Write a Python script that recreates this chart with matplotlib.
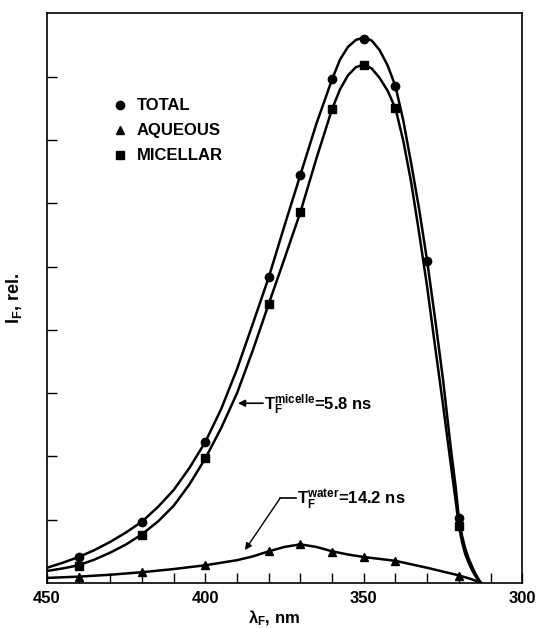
import numpy as np
import matplotlib
matplotlib.use('Agg')
import matplotlib.pyplot as plt
from matplotlib.lines import Line2D

plt.rcParams['font.family'] = ['Liberation Sans', 'DejaVu Sans']
plt.rcParams['font.weight'] = 'bold'
plt.rcParams['axes.labelweight'] = 'bold'
plt.rcParams['mathtext.fontset'] = 'custom'
plt.rcParams['mathtext.rm'] = 'Liberation Sans:bold'
plt.rcParams['mathtext.it'] = 'Liberation Sans:bold'
plt.rcParams['mathtext.default'] = 'rm'

# measured points (wavelength nm, relative intensity)
wl_pts = [440, 420, 400, 380, 370, 360, 350, 340, 330, 320]
total_pts = [0.41, 0.96, 2.23, 4.83, 6.45, 7.96, 8.60, 7.85, 5.09, 1.03]
wl_mic = [440, 420, 400, 380, 370, 360, 350, 340, 320]
micellar_pts = [0.27, 0.76, 1.97, 4.41, 5.86, 7.49, 8.18, 7.50, 0.90]
wl_aq = [440, 420, 400, 380, 370, 360, 350, 340, 320]
aqueous_pts = [0.09, 0.17, 0.28, 0.50, 0.62, 0.49, 0.41, 0.35, 0.11]

# drawn curves
wl_curve = [450, 445, 440, 435, 430, 425, 420, 415, 410, 405, 400, 395, 390,
            385, 380, 375, 370, 365, 360, 357.5, 355, 352.5, 350, 347.5, 345,
            342.5, 340, 337.5, 335, 332.5, 330, 327.5, 325, 322.5, 321, 320,
            319, 318, 317, 316, 315, 314, 313]
total_curve = [0.24, 0.32, 0.41, 0.52, 0.65, 0.80, 0.97, 1.20, 1.47, 1.82,
               2.23, 2.75, 3.38, 4.10, 4.83, 5.65, 6.45, 7.25, 7.96, 8.27,
               8.47, 8.58, 8.62, 8.57, 8.42, 8.18, 7.85, 7.30, 6.62, 5.90,
               5.09, 4.18, 3.22, 2.12, 1.52, 1.03, 0.75, 0.55, 0.40, 0.28,
               0.17, 0.08, 0.0]
micellar_curve = [0.19, 0.23, 0.28, 0.37, 0.48, 0.61, 0.77, 0.97, 1.22, 1.56,
                  1.97, 2.45, 3.00, 3.68, 4.41, 5.13, 5.86, 6.70, 7.49, 7.80,
                  8.02, 8.15, 8.19, 8.13, 7.98, 7.78, 7.50, 6.98, 6.32, 5.52,
                  4.68, 3.74, 2.82, 1.86, 1.30, 0.90, 0.65, 0.46, 0.33, 0.22,
                  0.13, 0.05, 0.0]
wl_aq_curve = [450, 440, 430, 420, 410, 400, 390, 385, 380, 375, 370, 365,
               360, 355, 350, 345, 340, 330, 320, 316, 313]
aqueous_curve = [0.08, 0.10, 0.13, 0.17, 0.22, 0.28, 0.36, 0.42, 0.50, 0.57,
                 0.61, 0.57, 0.50, 0.45, 0.41, 0.38, 0.35, 0.24, 0.12, 0.06,
                 0.0]

fig = plt.figure(figsize=(5.4, 6.28), dpi=100)
ax = fig.add_axes([0.087, 0.0717, 0.88, 0.907])

lw = 1.8
ax.plot(wl_curve, total_curve, color='black', lw=lw, zorder=2)
ax.plot(wl_curve, micellar_curve, color='black', lw=lw, zorder=2)
ax.plot(wl_aq_curve, aqueous_curve, color='black', lw=lw, zorder=2)

ax.plot(wl_pts, total_pts, 'o', color='black', ms=6, zorder=3)
ax.plot(wl_mic, micellar_pts, 's', color='black', ms=6, zorder=3)
ax.plot(wl_aq, aqueous_pts, '^', color='black', ms=6, zorder=3)

ax.set_xlim(450, 300)
ax.set_ylim(0, 9)
ax.set_xticks([450, 400, 350, 300])
ax.set_xticks(np.arange(300, 451, 10), minor=True)
ax.set_yticks(np.arange(1, 9))
ax.set_yticklabels([])
ax.tick_params(axis='x', which='both', direction='in', length=7, width=1,
               labelsize=12, pad=6)
ax.tick_params(axis='y', direction='in', length=7, width=1)
for s in ax.spines.values():
    s.set_linewidth(1.2)

ax.set_xlabel('λ$_F$, nm', fontsize=12)
ax.xaxis.set_label_coords(0.478, -0.045)
ax.set_ylabel('$I_F$, rel.', fontsize=13)
ax.yaxis.set_label_coords(-0.048, 0.5)

# legend
handles = [Line2D([], [], marker='o', ls='none', color='black', ms=6),
           Line2D([], [], marker='^', ls='none', color='black', ms=6),
           Line2D([], [], marker='s', ls='none', color='black', ms=6)]
ax.legend(handles, ['TOTAL', 'AQUEOUS', 'MICELLAR'], loc='upper left',
          bbox_to_anchor=(0.104, 0.877), frameon=False, fontsize=12,
          handlelength=1.0, handletextpad=0.52, labelspacing=0.6)

# lifetime annotations
ax.annotate('', xy=(389.7, 2.84), xytext=(381.8, 2.84),
            arrowprops=dict(arrowstyle='-|>', color='black', lw=1.2,
                            mutation_scale=10, shrinkA=0, shrinkB=0))
ax.text(381.5, 2.82, r'T$_F^{micelle}$=5.8 ns', fontsize=12,
        va='center', ha='left')

ax.plot([376.4, 371.5], [1.34, 1.34], color='black', lw=1.2)
ax.annotate('', xy=(387.5, 0.52), xytext=(376.4, 1.34),
            arrowprops=dict(arrowstyle='-|>', color='black', lw=1.0,
                            mutation_scale=10, shrinkA=0, shrinkB=0))
ax.text(371.2, 1.31, r'T$_F^{water}$=14.2 ns', fontsize=12,
        va='center', ha='left')

fig.savefig('out.png', dpi=100)
